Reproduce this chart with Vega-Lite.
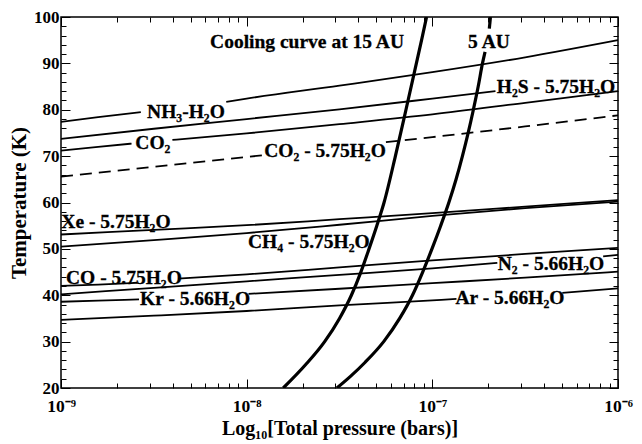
{
  "$schema": "https://vega.github.io/schema/vega-lite/v6.json",
  "width": 557,
  "height": 371,
  "autosize": {"type": "none"},
  "padding": {"left": 61, "top": 17, "right": 24, "bottom": 56},
  "background": "white",
  "config": {
    "view": {"stroke": "black", "strokeWidth": 1.5},
    "axis": {
      "domain": false,
      "grid": false,
      "tickColor": "black",
      "tickWidth": 1,
      "labelFont": "Liberation Serif",
      "labelFontWeight": "bold",
      "labelColor": "black",
      "labelFontSize": 17,
      "labelFlush": false,
      "labelOverlap": false,
      "labelBound": false,
      "titleFont": "Liberation Serif",
      "titleFontWeight": "bold",
      "titleColor": "black",
      "titleFontSize": 20
    }
  },
  "datasets": {
    "curves": [
      {"name": "NH3-H2O", "kind": "clathrate", "seg": 1, "logP": -9, "T": 77.4},
      {"name": "NH3-H2O", "kind": "clathrate", "seg": 1, "logP": -8.8, "T": 78.4},
      {"name": "NH3-H2O", "kind": "clathrate", "seg": 1, "logP": -8.57, "T": 79.5},
      {"name": "NH3-H2O", "kind": "clathrate", "seg": 2, "logP": -8.11, "T": 81.7},
      {"name": "NH3-H2O", "kind": "clathrate", "seg": 2, "logP": -8, "T": 82.4},
      {"name": "NH3-H2O", "kind": "clathrate", "seg": 2, "logP": -7.5, "T": 85.2},
      {"name": "NH3-H2O", "kind": "clathrate", "seg": 2, "logP": -7, "T": 88.1},
      {"name": "NH3-H2O", "kind": "clathrate", "seg": 2, "logP": -6.5, "T": 91.3},
      {"name": "NH3-H2O", "kind": "clathrate", "seg": 2, "logP": -6, "T": 95.0},

      {"name": "H2S - 5.75H2O", "kind": "clathrate", "seg": 1, "logP": -9, "T": 73.7},
      {"name": "H2S - 5.75H2O", "kind": "clathrate", "seg": 1, "logP": -8.5, "T": 75.9},
      {"name": "H2S - 5.75H2O", "kind": "clathrate", "seg": 1, "logP": -8, "T": 78.0},
      {"name": "H2S - 5.75H2O", "kind": "clathrate", "seg": 1, "logP": -7.5, "T": 80.1},
      {"name": "H2S - 5.75H2O", "kind": "clathrate", "seg": 1, "logP": -7, "T": 82.4},
      {"name": "H2S - 5.75H2O", "kind": "clathrate", "seg": 1, "logP": -6.66, "T": 84.0},

      {"name": "CO2", "kind": "clathrate", "seg": 1, "logP": -9, "T": 71.2},
      {"name": "CO2", "kind": "clathrate", "seg": 1, "logP": -8.8, "T": 72.0},
      {"name": "CO2", "kind": "clathrate", "seg": 1, "logP": -8.62, "T": 72.7},
      {"name": "CO2", "kind": "clathrate", "seg": 2, "logP": -8.4, "T": 73.5},
      {"name": "CO2", "kind": "clathrate", "seg": 2, "logP": -8, "T": 74.9},
      {"name": "CO2", "kind": "clathrate", "seg": 2, "logP": -7.5, "T": 76.9},
      {"name": "CO2", "kind": "clathrate", "seg": 2, "logP": -7, "T": 79.0},
      {"name": "CO2", "kind": "clathrate", "seg": 2, "logP": -6.5, "T": 81.5},
      {"name": "CO2", "kind": "clathrate", "seg": 2, "logP": -6, "T": 84.0},

      {"name": "CO2 - 5.75H2O", "kind": "clathrate", "seg": 1, "logP": -9, "T": 65.6},
      {"name": "CO2 - 5.75H2O", "kind": "clathrate", "seg": 1, "logP": -8.5, "T": 67.7},
      {"name": "CO2 - 5.75H2O", "kind": "clathrate", "seg": 1, "logP": -7.91, "T": 70.2},
      {"name": "CO2 - 5.75H2O", "kind": "clathrate", "seg": 2, "logP": -7.25, "T": 73.0},
      {"name": "CO2 - 5.75H2O", "kind": "clathrate", "seg": 2, "logP": -7, "T": 74.1},
      {"name": "CO2 - 5.75H2O", "kind": "clathrate", "seg": 2, "logP": -6.5, "T": 76.4},
      {"name": "CO2 - 5.75H2O", "kind": "clathrate", "seg": 2, "logP": -6, "T": 78.8},

      {"name": "Xe - 5.75H2O", "kind": "clathrate", "seg": 1, "logP": -9, "T": 53.1},
      {"name": "Xe - 5.75H2O", "kind": "clathrate", "seg": 1, "logP": -8.5, "T": 54.1},
      {"name": "Xe - 5.75H2O", "kind": "clathrate", "seg": 1, "logP": -8, "T": 55.1},
      {"name": "Xe - 5.75H2O", "kind": "clathrate", "seg": 1, "logP": -7.5, "T": 56.4},
      {"name": "Xe - 5.75H2O", "kind": "clathrate", "seg": 1, "logP": -7, "T": 57.7},
      {"name": "Xe - 5.75H2O", "kind": "clathrate", "seg": 1, "logP": -6.5, "T": 59.1},
      {"name": "Xe - 5.75H2O", "kind": "clathrate", "seg": 1, "logP": -6, "T": 60.5},

      {"name": "CH4 - 5.75H2O", "kind": "clathrate", "seg": 1, "logP": -9, "T": 50.5},
      {"name": "CH4 - 5.75H2O", "kind": "clathrate", "seg": 1, "logP": -8.5, "T": 51.9},
      {"name": "CH4 - 5.75H2O", "kind": "clathrate", "seg": 1, "logP": -8, "T": 53.4},
      {"name": "CH4 - 5.75H2O", "kind": "clathrate", "seg": 1, "logP": -7.5, "T": 55.2},
      {"name": "CH4 - 5.75H2O", "kind": "clathrate", "seg": 1, "logP": -7, "T": 57.1},
      {"name": "CH4 - 5.75H2O", "kind": "clathrate", "seg": 1, "logP": -6.5, "T": 58.8},
      {"name": "CH4 - 5.75H2O", "kind": "clathrate", "seg": 1, "logP": -6, "T": 60.2},

      {"name": "CO - 5.75H2O", "kind": "clathrate", "seg": 1, "logP": -9, "T": 42.0},
      {"name": "CO - 5.75H2O", "kind": "clathrate", "seg": 1, "logP": -8.8, "T": 42.3},
      {"name": "CO - 5.75H2O", "kind": "clathrate", "seg": 1, "logP": -8.59, "T": 42.7},
      {"name": "CO - 5.75H2O", "kind": "clathrate", "seg": 2, "logP": -8.37, "T": 43.6},
      {"name": "CO - 5.75H2O", "kind": "clathrate", "seg": 2, "logP": -8, "T": 44.5},
      {"name": "CO - 5.75H2O", "kind": "clathrate", "seg": 2, "logP": -7.5, "T": 46.0},
      {"name": "CO - 5.75H2O", "kind": "clathrate", "seg": 2, "logP": -7, "T": 47.5},
      {"name": "CO - 5.75H2O", "kind": "clathrate", "seg": 2, "logP": -6.5, "T": 48.9},
      {"name": "CO - 5.75H2O", "kind": "clathrate", "seg": 2, "logP": -6, "T": 50.2},

      {"name": "N2 - 5.66H2O", "kind": "clathrate", "seg": 1, "logP": -9, "T": 40.2},
      {"name": "N2 - 5.66H2O", "kind": "clathrate", "seg": 1, "logP": -8.5, "T": 41.6},
      {"name": "N2 - 5.66H2O", "kind": "clathrate", "seg": 1, "logP": -8, "T": 43.0},
      {"name": "N2 - 5.66H2O", "kind": "clathrate", "seg": 1, "logP": -7.5, "T": 44.4},
      {"name": "N2 - 5.66H2O", "kind": "clathrate", "seg": 1, "logP": -7, "T": 45.8},
      {"name": "N2 - 5.66H2O", "kind": "clathrate", "seg": 1, "logP": -6.65, "T": 47.0},
      {"name": "N2 - 5.66H2O", "kind": "clathrate", "seg": 2, "logP": -6.08, "T": 48.4},
      {"name": "N2 - 5.66H2O", "kind": "clathrate", "seg": 2, "logP": -6, "T": 48.7},

      {"name": "Kr - 5.66H2O", "kind": "clathrate", "seg": 1, "logP": -9, "T": 38.6},
      {"name": "Kr - 5.66H2O", "kind": "clathrate", "seg": 1, "logP": -8.8, "T": 38.85},
      {"name": "Kr - 5.66H2O", "kind": "clathrate", "seg": 1, "logP": -8.58, "T": 39.1},
      {"name": "Kr - 5.66H2O", "kind": "clathrate", "seg": 2, "logP": -7.99, "T": 40.3},
      {"name": "Kr - 5.66H2O", "kind": "clathrate", "seg": 2, "logP": -7.5, "T": 41.4},
      {"name": "Kr - 5.66H2O", "kind": "clathrate", "seg": 2, "logP": -7, "T": 42.6},
      {"name": "Kr - 5.66H2O", "kind": "clathrate", "seg": 2, "logP": -6.5, "T": 43.8},
      {"name": "Kr - 5.66H2O", "kind": "clathrate", "seg": 2, "logP": -6, "T": 45.1},

      {"name": "Ar - 5.66H2O", "kind": "clathrate", "seg": 1, "logP": -9, "T": 34.7},
      {"name": "Ar - 5.66H2O", "kind": "clathrate", "seg": 1, "logP": -8.5, "T": 35.6},
      {"name": "Ar - 5.66H2O", "kind": "clathrate", "seg": 1, "logP": -8, "T": 36.6},
      {"name": "Ar - 5.66H2O", "kind": "clathrate", "seg": 1, "logP": -7.5, "T": 37.8},
      {"name": "Ar - 5.66H2O", "kind": "clathrate", "seg": 1, "logP": -7, "T": 38.9},
      {"name": "Ar - 5.66H2O", "kind": "clathrate", "seg": 1, "logP": -6.87, "T": 39.2},
      {"name": "Ar - 5.66H2O", "kind": "clathrate", "seg": 2, "logP": -6.3, "T": 40.5},
      {"name": "Ar - 5.66H2O", "kind": "clathrate", "seg": 2, "logP": -6, "T": 41.5},

      {"name": "15 AU", "kind": "cooling", "seg": 1, "logP": -7.803, "T": 20},
      {"name": "15 AU", "kind": "cooling", "seg": 1, "logP": -7.683, "T": 25},
      {"name": "15 AU", "kind": "cooling", "seg": 1, "logP": -7.580, "T": 30},
      {"name": "15 AU", "kind": "cooling", "seg": 1, "logP": -7.500, "T": 35},
      {"name": "15 AU", "kind": "cooling", "seg": 1, "logP": -7.436, "T": 40},
      {"name": "15 AU", "kind": "cooling", "seg": 1, "logP": -7.385, "T": 45},
      {"name": "15 AU", "kind": "cooling", "seg": 1, "logP": -7.341, "T": 50},
      {"name": "15 AU", "kind": "cooling", "seg": 1, "logP": -7.299, "T": 55},
      {"name": "15 AU", "kind": "cooling", "seg": 1, "logP": -7.260, "T": 60},
      {"name": "15 AU", "kind": "cooling", "seg": 1, "logP": -7.199, "T": 70},
      {"name": "15 AU", "kind": "cooling", "seg": 1, "logP": -7.142, "T": 80},
      {"name": "15 AU", "kind": "cooling", "seg": 1, "logP": -7.086, "T": 90},
      {"name": "15 AU", "kind": "cooling", "seg": 1, "logP": -7.058, "T": 95},
      {"name": "15 AU", "kind": "cooling", "seg": 1, "logP": -7.031, "T": 100},

      {"name": "5 AU", "kind": "cooling", "seg": 1, "logP": -7.514, "T": 20},
      {"name": "5 AU", "kind": "cooling", "seg": 1, "logP": -7.441, "T": 22.5},
      {"name": "5 AU", "kind": "cooling", "seg": 1, "logP": -7.363, "T": 25.5},
      {"name": "5 AU", "kind": "cooling", "seg": 1, "logP": -7.262, "T": 30},
      {"name": "5 AU", "kind": "cooling", "seg": 1, "logP": -7.176, "T": 35},
      {"name": "5 AU", "kind": "cooling", "seg": 1, "logP": -7.107, "T": 40},
      {"name": "5 AU", "kind": "cooling", "seg": 1, "logP": -7.052, "T": 45},
      {"name": "5 AU", "kind": "cooling", "seg": 1, "logP": -7.002, "T": 50},
      {"name": "5 AU", "kind": "cooling", "seg": 1, "logP": -6.955, "T": 55},
      {"name": "5 AU", "kind": "cooling", "seg": 1, "logP": -6.911, "T": 60},
      {"name": "5 AU", "kind": "cooling", "seg": 1, "logP": -6.872, "T": 65},
      {"name": "5 AU", "kind": "cooling", "seg": 1, "logP": -6.838, "T": 70},
      {"name": "5 AU", "kind": "cooling", "seg": 1, "logP": -6.807, "T": 75},
      {"name": "5 AU", "kind": "cooling", "seg": 1, "logP": -6.779, "T": 80},
      {"name": "5 AU", "kind": "cooling", "seg": 1, "logP": -6.753, "T": 85},
      {"name": "5 AU", "kind": "cooling", "seg": 1, "logP": -6.73, "T": 90},
      {"name": "5 AU", "kind": "cooling", "seg": 1, "logP": -6.716, "T": 92.5},
      {"name": "5 AU", "kind": "cooling", "seg": 2, "logP": -6.693, "T": 97.5},
      {"name": "5 AU", "kind": "cooling", "seg": 2, "logP": -6.687, "T": 100}
    ],
    "labels": [
      {"text": "Cooling curve at 15 AU", "logP": -7.675, "T": 94.7},
      {"text": "5 AU", "logP": -6.695, "T": 94.7},
      {"text": "NH₃-H₂O", "logP": -8.327, "T": 79.6},
      {"text": "H₂S - 5.75H₂O", "logP": -6.334, "T": 85.0},
      {"text": "CO₂", "logP": -8.505, "T": 72.8},
      {"text": "CO₂ - 5.75H₂O", "logP": -7.578, "T": 71.0},
      {"text": "Xe - 5.75H₂O", "logP": -8.704, "T": 55.9},
      {"text": "CH₄ - 5.75H₂O", "logP": -7.665, "T": 51.4},
      {"text": "CO - 5.75H₂O", "logP": -8.661, "T": 43.8},
      {"text": "Kr - 5.66H₂O", "logP": -8.278, "T": 39.2},
      {"text": "N₂ - 5.66H₂O", "logP": -6.361, "T": 46.7},
      {"text": "Ar - 5.66H₂O", "logP": -6.582, "T": 39.3}
    ]
  },
  "layer": [
    {
      "data": {"name": "curves"},
      "transform": [{"filter": "datum.kind == 'clathrate' && datum.name != 'CO2 - 5.75H2O'"}],
      "mark": {"type": "line", "color": "black", "strokeWidth": 1.8, "interpolate": "monotone", "clip": true},
      "encoding": {
        "x": {
          "field": "logP", "type": "quantitative",
          "scale": {"domain": [-9, -6], "nice": false, "zero": false},
          "axis": {
            "orient": "bottom",
            "values": [-9, -8.69897, -8.52288, -8.39794, -8.30103, -8.22185, -8.1549, -8.09691, -8.04576,
                       -8, -7.69897, -7.52288, -7.39794, -7.30103, -7.22185, -7.1549, -7.09691, -7.04576,
                       -7, -6.69897, -6.52288, -6.39794, -6.30103, -6.22185, -6.1549, -6.09691, -6.04576, -6],
            "labelExpr": "datum.value == -9 ? '10⁻⁹' : datum.value == -8 ? '10⁻⁸' : datum.value == -7 ? '10⁻⁷' : datum.value == -6 ? '10⁻⁶' : ''",
            "tickSize": {"condition": {"test": "datum.value == round(datum.value)", "value": -9}, "value": -5},
            "labelPadding": 18,
            "labelFontSize": 17.5,
            "title": "Log₁₀[Total pressure (bars)]",
            "titlePadding": 0
          }
        },
        "y": {
          "field": "T", "type": "quantitative",
          "scale": {"domain": [20, 100], "nice": false, "zero": false},
          "axis": {
            "orient": "left",
            "values": [20, 22, 24, 26, 28, 30, 32, 34, 36, 38, 40, 42, 44, 46, 48, 50, 52, 54, 56, 58, 60, 62, 64, 66, 68, 70, 72, 74, 76, 78, 80, 82, 84, 86, 88, 90, 92, 94, 96, 98, 100],
            "labelExpr": "datum.value % 10 == 0 ? datum.label : ''",
            "tickSize": {"condition": {"test": "datum.value % 10 == 0", "value": -9}, "value": -5},
            "labelPadding": 11,
            "title": "Temperature (K)",
            "titleFontSize": 21,
            "titlePadding": 4
          }
        },
        "detail": [{"field": "name"}, {"field": "seg"}]
      }
    },
    {
      "data": {"name": "curves"},
      "transform": [{"filter": "datum.kind == 'cooling'"}],
      "mark": {"type": "line", "color": "black", "strokeWidth": 3.2, "interpolate": "monotone", "clip": true},
      "encoding": {
        "x": {
          "field": "logP", "type": "quantitative",
          "axis": {
            "orient": "top",
            "values": [-9, -8.69897, -8.52288, -8.39794, -8.30103, -8.22185, -8.1549, -8.09691, -8.04576,
                       -8, -7.69897, -7.52288, -7.39794, -7.30103, -7.22185, -7.1549, -7.09691, -7.04576,
                       -7, -6.69897, -6.52288, -6.39794, -6.30103, -6.22185, -6.1549, -6.09691, -6.04576, -6],
            "labels": false,
            "tickSize": {"condition": {"test": "datum.value == round(datum.value)", "value": -9}, "value": -5},
            "title": null
          }
        },
        "y": {
          "field": "T", "type": "quantitative",
          "axis": {
            "orient": "right",
            "values": [20, 22, 24, 26, 28, 30, 32, 34, 36, 38, 40, 42, 44, 46, 48, 50, 52, 54, 56, 58, 60, 62, 64, 66, 68, 70, 72, 74, 76, 78, 80, 82, 84, 86, 88, 90, 92, 94, 96, 98, 100],
            "labels": false,
            "tickSize": {"condition": {"test": "datum.value % 10 == 0", "value": -9}, "value": -5},
            "title": null
          }
        },
        "detail": [{"field": "name"}, {"field": "seg"}]
      }
    },
    {
      "data": {"name": "curves"},
      "transform": [{"filter": "datum.name == 'CO2 - 5.75H2O'"}],
      "mark": {"type": "line", "color": "black", "strokeWidth": 1.8, "strokeDash": [12, 7], "interpolate": "monotone", "clip": true},
      "encoding": {
        "x": {"field": "logP", "type": "quantitative", "axis": null},
        "y": {"field": "T", "type": "quantitative", "axis": null},
        "detail": {"field": "seg"}
      }
    },
    {
      "data": {"name": "labels"},
      "mark": {"type": "text", "font": "Liberation Serif", "fontWeight": "bold", "fontSize": 19.5, "align": "center", "baseline": "middle", "color": "black", "stroke": "black", "strokeWidth": 0.3},
      "encoding": {
        "x": {"field": "logP", "type": "quantitative", "axis": null},
        "y": {"field": "T", "type": "quantitative", "axis": null},
        "text": {"field": "text"}
      }
    }
  ],
  "resolve": {"axis": {"x": "independent", "y": "independent"}}
}
